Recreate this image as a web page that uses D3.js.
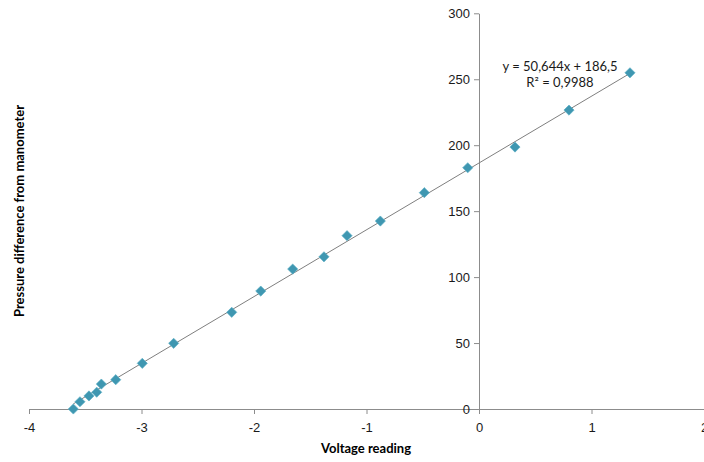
<!DOCTYPE html>
<html>
<head>
<meta charset="utf-8">
<title>Pressure vs voltage</title>
<style>
  body { margin: 0; background: #fff; }
  svg { display: block; font-family: Lato, "Open Sans", sans-serif; }
  .tick text { font-size: 13px; fill: #1a1a1a; }
  .axis path, .axis line { stroke: #8c8c8c; }
  .title { font-size: 13px; font-weight: bold; fill: #000; }
  .eq { font-size: 13px; fill: #1a1a1a; }
</style>
</head>
<body>
<svg width="704" height="462"></svg>
<script src="https://cdn.jsdelivr.net/npm/d3@7"></script>
<script>
// readings
var voltage = [-3.606, -3.547, -3.467, -3.398, -3.357, -3.229, -2.993, -2.714, -2.198,
               -1.940, -1.656, -1.378, -1.173, -0.877, -0.486, -0.100, 0.320, 0.800, 1.342];
var pressure = [0, 5.5, 9.9, 12.7, 18.9, 22.2, 34.6, 49.8, 73.3,
                89.4, 106.1, 115.4, 131.4, 142.5, 164.0, 182.9, 198.6, 226.6, 254.9];
var xTicks = [-4, -3, -2, -1, 0, 1, 2];
var yTicks = [0, 50, 100, 150, 200, 250, 300];
var slope = 50.644, intercept = 186.5, r2 = 0.9988;

var svg = d3.select("svg");

var x = d3.scaleLinear().domain([-4, 2]).range([29, 704]);
var y = d3.scaleLinear().domain([0, 300]).range([409, 13.3]);

var fmt = function(v) { return String(v).replace(".", ","); };

// x axis sits at y = 0
svg.append("g")
    .attr("class", "axis")
    .attr("transform", "translate(0," + y(0) + ")")
    .call(d3.axisBottom(x).tickValues(xTicks).tickSize(5).tickSizeOuter(0).tickPadding(9)
      .tickFormat(function(d) { return d; }));

// y axis sits at x = 0
svg.append("g")
    .attr("class", "axis")
    .attr("transform", "translate(" + x(0) + ",0)")
    .call(d3.axisLeft(y).tickValues(yTicks).tickSize(5).tickSizeOuter(0).tickPadding(4));

svg.selectAll(".axis .domain").attr("stroke", "#8c8c8c");
svg.selectAll(".axis text").attr("font-family", null);

// trendline over the data range
var x0 = d3.min(voltage), x1 = d3.max(voltage);
svg.append("line")
    .attr("x1", x(x0)).attr("y1", y(slope * x0 + intercept))
    .attr("x2", x(x1)).attr("y2", y(slope * x1 + intercept))
    .attr("stroke", "#7f7f7f")
    .attr("stroke-width", 1);

var pts = voltage.map(function(v, i) { return { v: v, p: pressure[i] }; });

svg.selectAll(".pt")
    .data(pts)
    .enter()
    .append("path")
    .attr("class", "pt")
    .attr("d", d3.symbol().type(d3.symbolSquare).size(52))
    .attr("transform", function(d) { return "translate(" + x(d.v) + "," + y(d.p) + ") rotate(45)"; })
    .attr("fill", "#3f97b1")
    .attr("stroke", "#5aaec4")
    .attr("stroke-width", 0.6);

// equation label
svg.append("text")
    .attr("class", "eq")
    .attr("x", 560).attr("y", 71)
    .attr("text-anchor", "middle")
    .text("y = " + fmt(slope) + "x + " + fmt(intercept));
svg.append("text")
    .attr("class", "eq")
    .attr("x", 560).attr("y", 87)
    .attr("text-anchor", "middle")
    .text("R\u00b2 = " + fmt(r2));

// axis titles
svg.append("text")
    .attr("class", "title")
    .attr("x", 366).attr("y", 453)
    .attr("text-anchor", "middle")
    .text("Voltage reading");

svg.append("text")
    .attr("class", "title")
    .attr("transform", "translate(24,211) rotate(-90)")
    .attr("text-anchor", "middle")
    .text("Pressure difference from manometer");
</script>
</body>
</html>
